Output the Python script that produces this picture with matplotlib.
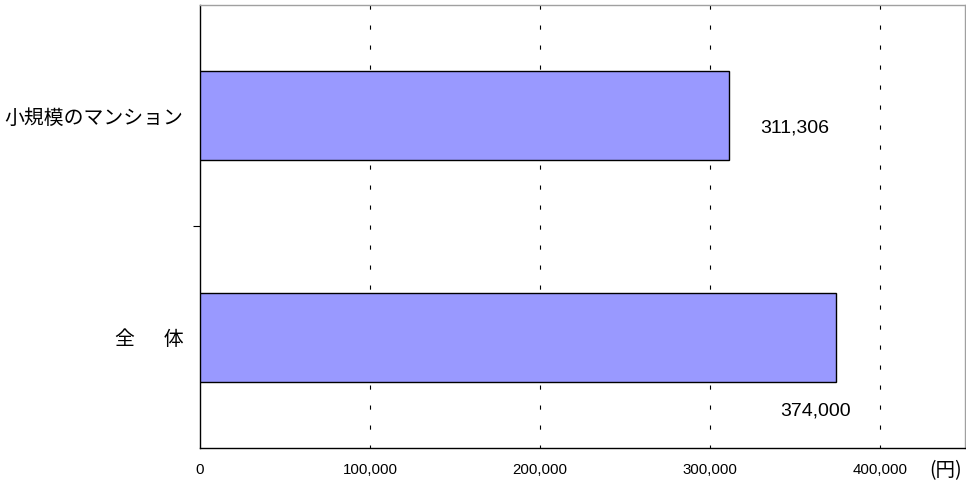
import matplotlib
matplotlib.use("Agg")
import matplotlib.pyplot as plt
from matplotlib.transforms import blended_transform_factory

plt.rcParams["lines.scale_dashes"] = False

categories = ["小規模のマンション", "全 \u3000 体"]
values = [311306, 374000]
value_labels = ["311,306", "374,000"]
x_ticks = [0, 100000, 200000, 300000, 400000]
x_tick_labels = ["0", "100,000", "200,000", "300,000", "400,000"]
unit_label = "(円)"

# Label offsets (points) from the bar end, as laid out in the workbook chart
label_offsets = [(22, -9), (-40, -53)]

jp = ["Noto Sans CJK JP", "DejaVu Sans"]

fig = plt.figure(figsize=(9.66, 4.86), dpi=100)
ax = fig.add_axes([200 / 966, 1 - 448 / 486, 765 / 966, 443 / 486])

ypos = list(range(len(categories)))
ax.barh(ypos, values, height=0.4, color="#9999FF", edgecolor="black",
        linewidth=1.0, zorder=3)

ax.set_xlim(0, 450000)
ax.set_ylim(len(categories) - 0.5, -0.5)

# Dashed vertical guides drawn top-down
trans = blended_transform_factory(ax.transData, ax.transAxes)
for xv in x_ticks[1:]:
    ax.plot([xv, xv], [1, 0], transform=trans, color="black", lw=0.8,
            linestyle=(0, (3.0, 11.4)), zorder=1)

ax.set_xticks(x_ticks)
ax.set_xticklabels(x_tick_labels, fontfamily="Liberation Sans", fontsize=10.8)
ax.tick_params(axis="x", length=0, pad=11)

ax.set_yticks(ypos)
ax.set_yticklabels(categories, fontfamily=jp, fontsize=14.3)
ax.tick_params(axis="y", which="major", length=0, pad=12)
ax.set_yticks([0.5], minor=True)
ax.tick_params(axis="y", which="minor", length=5, width=0.8, color="black",
               direction="out")

for s in ["left", "bottom"]:
    ax.spines[s].set_color("black")
    ax.spines[s].set_linewidth(1.0)
for s in ["top", "right"]:
    ax.spines[s].set_color("#a0a0a0")
    ax.spines[s].set_linewidth(1.0)

for y, v, lab, off in zip(ypos, values, value_labels, label_offsets):
    ax.annotate(lab, xy=(v, y), xytext=off, textcoords="offset points",
                ha="left", va="center", fontfamily="Liberation Sans",
                fontsize=14, color="black")

fig.text(946 / 966, 1 - 471 / 486, unit_label, ha="center", va="center",
         fontfamily=jp, fontsize=14)

fig.savefig("out.png", dpi=100)
